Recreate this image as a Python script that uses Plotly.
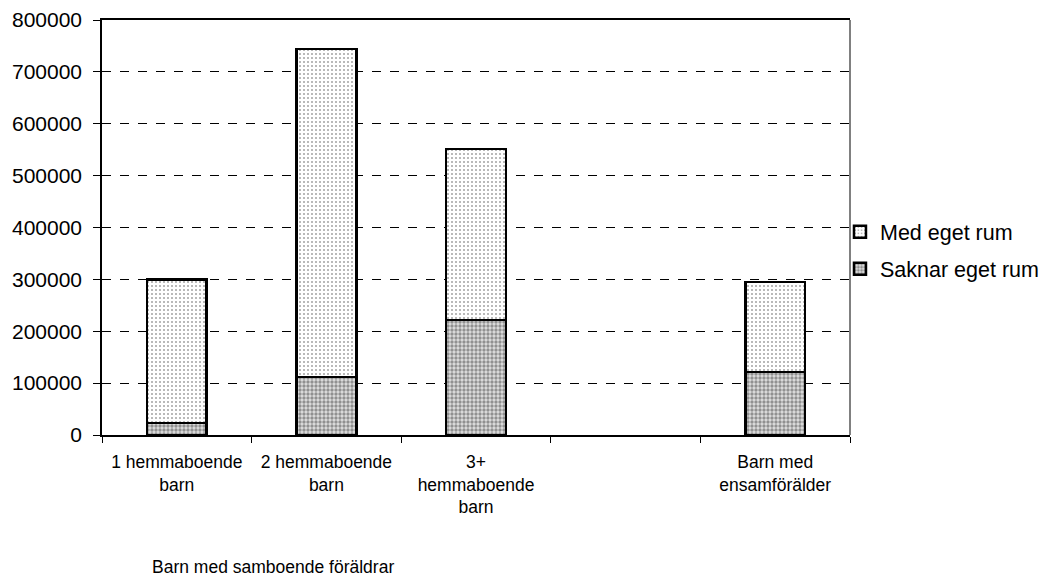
import plotly.graph_objects as go

categories = ["1 hemmaboende<br>barn", "2 hemmaboende<br>barn", "3+<br>hemmaboende<br>barn", " ", "Barn med<br>ensamförälder"]
saknar_eget_rum = [23000, 112000, 222000, None, 121000]
med_eget_rum = [277000, 632000, 329000, None, 174000]
y_ticks = [0, 100000, 200000, 300000, 400000, 500000, 600000, 700000, 800000]
footer = "Barn med samboende föräldrar"

FONT = "Liberation Sans, Arial, sans-serif"

fig = go.Figure()
fig.add_trace(go.Bar(
    x=categories, y=saknar_eget_rum, name="Saknar eget rum", legendgroup="s", legendrank=2,
    marker=dict(color="#b0b0b0", line=dict(color="black", width=2.5),
                pattern=dict(shape=".", fgcolor="#404040", bgcolor="#e0e0e0", size=4, solidity=0.55)),
))
fig.add_trace(go.Bar(
    x=categories, y=med_eget_rum, name="Med eget rum", legendgroup="m", legendrank=1,
    marker=dict(color="white", line=dict(color="black", width=2.5),
                pattern=dict(shape=".", fgcolor="#505050", bgcolor="white", size=4, solidity=0.22)),
))

# page body has an 8px margin, so the figure is drawn 8px smaller and offset
fig.update_layout(
    width=1040, height=568,
    barmode="stack", bargap=0.6,
    paper_bgcolor="white", plot_bgcolor="white",
    margin=dict(l=94, r=198, t=12, b=141, autoexpand=False),
    font=dict(family=FONT, color="black"),
    legend=dict(x=0.9866, xanchor="left", y=0.445, yanchor="middle",
                traceorder="grouped", tracegroupgap=6, font=dict(size=21.5),
                bgcolor="rgba(0,0,0,0)", itemwidth=30),
    showlegend=True,
    annotations=[dict(text=footer, xref="paper", yref="paper", x=0.064, y=-0.318,
                      xanchor="left", yanchor="middle", showarrow=False,
                      font=dict(size=17.5, family=FONT, color="black"))],
    shapes=[dict(type="line", xref="paper", yref="paper", x0=1, x1=1, y0=0, y1=1,
                 line=dict(color="#808080", width=2))],
)
fig.update_xaxes(
    type="category", categoryorder="array", categoryarray=categories,
    showline=True, linecolor="black", linewidth=1.5, mirror=True,
    tickson="boundaries", ticks="outside", ticklen=6, tickcolor="black",
    showgrid=False, tickfont=dict(size=17.5), automargin=False, ticklabelstandoff=10,
)
fig.update_yaxes(
    range=[0, 800000], tickvals=y_ticks, tickformat="d",
    showline=True, linecolor="black", linewidth=1.5,
    ticks="outside", ticklen=7, tickcolor="black",
    showgrid=True, gridcolor="black", gridwidth=1, griddash="dash",
    zeroline=False, tickfont=dict(size=21), ticklabelstandoff=7, automargin=False,
)

fig.write_html("out.html")
